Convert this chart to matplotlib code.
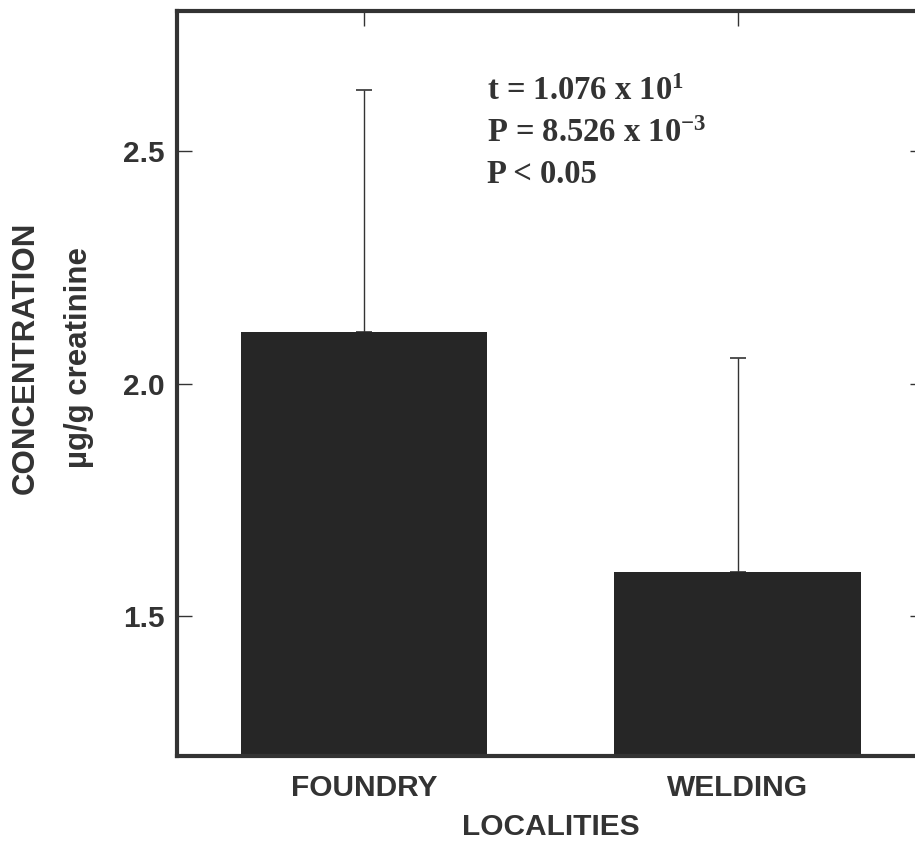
import numpy as np
from matplotlib import pyplot as plt

# mean concentration and standard deviation per locality
localities = ["FOUNDRY", "WELDING"]
mean_conc = [2.11, 1.595]
sd_conc = [0.52, 0.46]

stats_lines = [r"t = 1.076 x 10$^{1}$",
               r"P = 8.526 x 10$^{-3}$",
               "P < 0.05"]

SANS = "Liberation Sans"
SERIF = "Liberation Serif"
DARK = "#262626"
INK = "#333333"

# superscripts in the same bold serif as the rest of the statistics
plt.rcParams["mathtext.fontset"] = "custom"
plt.rcParams["mathtext.rm"] = "Liberation Serif:bold"
plt.rcParams["mathtext.default"] = "rm"


def main():
    fig = plt.figure(figsize=(9.15, 8.47), dpi=100)
    ax = fig.add_axes([0.1934, 0.1074, 0.817, 0.8796])

    x = np.arange(1, len(localities) + 1)
    ax.bar(x, mean_conc, width=0.66, color=DARK, zorder=2)
    # upper half of the error bars only
    ax.errorbar(x, mean_conc, yerr=[np.zeros(len(sd_conc)), sd_conc],
                fmt="none", ecolor=INK, elinewidth=1.0,
                capsize=5.5, capthick=1.2, zorder=1)

    ax.set_xlim(0.5, 2.5)
    ax.set_ylim(1.2, 2.8)
    ax.set_yticks([1.5, 2.0, 2.5])
    ax.set_yticklabels(["1.5", "2.0", "2.5"], fontfamily=SANS,
                       fontweight="bold", fontsize=21.5, color=INK)
    ax.set_xticks(x)
    ax.set_xticklabels(localities, fontfamily=SANS, fontweight="bold",
                       fontsize=21.5, color=INK)

    ax.tick_params(axis="y", direction="in", length=11, width=1,
                   right=True, pad=9, colors=INK)
    ax.tick_params(axis="x", direction="in", length=11, width=1,
                   bottom=False, top=True, pad=13, colors=INK)
    for sp in ax.spines.values():
        sp.set_linewidth(3)
        sp.set_color(INK)

    ax.set_xlabel("LOCALITIES", fontfamily=SANS, fontweight="bold",
                  fontsize=21.5, color=INK, labelpad=8)
    fig.text(0.028, 0.578, "CONCENTRATION", rotation=90, ha="center",
             va="center", fontfamily=SANS, fontweight="bold", fontsize=22.5,
             color=INK)
    fig.text(0.086, 0.578, "µg/g creatinine", rotation=90, ha="center",
             va="center", fontfamily=SANS, fontweight="bold", fontsize=22.5,
             color=INK)

    ys = [100, 142, 183]
    for line, y in zip(stats_lines, ys):
        fig.text(487 / 915, 1 - y / 847, line, ha="left", va="baseline",
                 fontfamily=SERIF, fontweight="bold", fontsize=23.5,
                 color=INK)

    fig.savefig("out.png", dpi=100)
    return


if __name__ == "__main__":
    main()
